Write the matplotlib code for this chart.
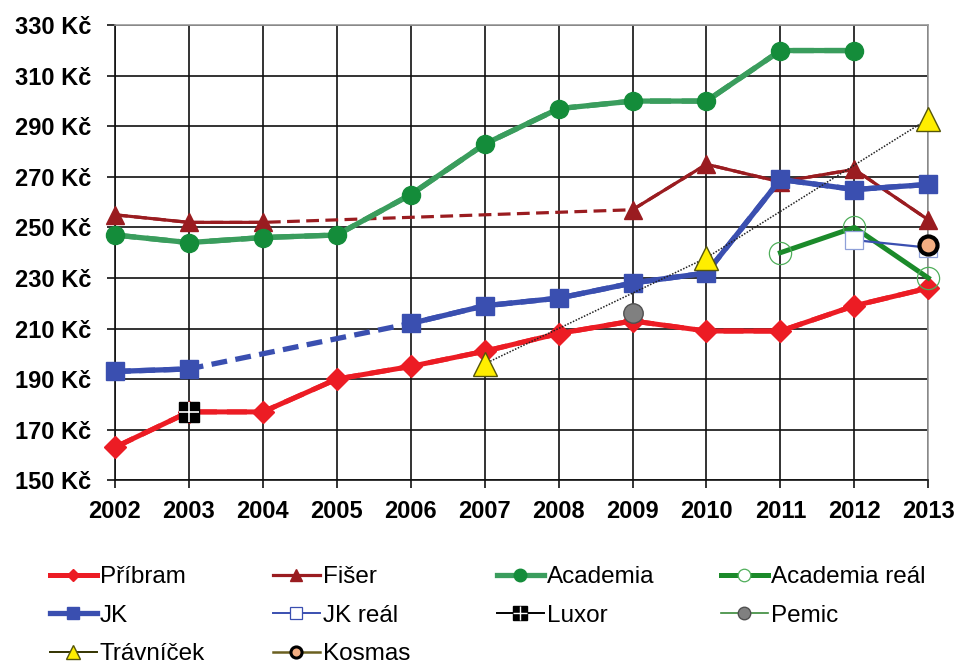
import matplotlib
matplotlib.use('Agg')
import matplotlib.pyplot as plt
from matplotlib.lines import Line2D
import numpy as np

years = list(range(2002, 2014))
nan = np.nan

pribram = [163, 177, 177, 190, 195, 201, 208, 213, 209, 209, 219, 226]
fiser = [255, 252, 252, nan, nan, nan, nan, 257, 275, 268, 273, 253]
academia = [247, 244, 246, 247, 263, 283, 297, 300, 300, 320, 320, nan]
academia_real = [nan] * 9 + [240, 250, 230]
jk = [193, 194, nan, nan, 212, 219, 222, 228, 232, 269, 265, 267]
jk_real = [nan] * 10 + [245, 242]
luxor_x, luxor_y = [2003], [177]
pemic_x, pemic_y = [2009], [216]
travnicek_x, travnicek_y = [2007, 2010, 2013], [196, 238, 293]
kosmas_x, kosmas_y = [2013], [243]

yticks = list(range(150, 331, 20))

plt.rcParams['font.family'] = ['Liberation Sans', 'DejaVu Sans']

fig = plt.figure(figsize=(9.58, 6.65), dpi=100)
ax = fig.add_axes([0.120, 0.278, 0.849, 0.684])


def series(ax, y, color, lw, marker, ms, mfc, mec, dash):
    y = np.array(y, dtype=float)
    ok = ~np.isnan(y)
    xs = np.array(years)[ok]
    # dashed line bridging missing years
    ax.plot(xs, y[ok], color=color, lw=lw, dashes=dash, clip_on=False, zorder=2)
    ax.plot(years, y, color=color, lw=lw, marker=marker, ms=ms, mfc=mfc,
            mec=mec, clip_on=False, zorder=3)


red = '#ec1c24'
darkred = '#9a1c20'
green_l = '#3a9d5d'
green_m = '#148c3a'
green_r = '#1b8a2a'
blue = '#3a4fb0'

series(ax, pribram, red, 3.6, 'D', 11, red, red, (4, 2))
series(ax, fiser, darkred, 2.3, '^', 13, darkred, darkred, (4, 2))
series(ax, academia, green_l, 3.8, 'o', 13, green_m, green_m, (4, 2))
ax.plot(years, academia_real, color=green_r, lw=3.6, marker='o', ms=16,
        mfc='none', mec='#4fae5a', mew=0.9, clip_on=False, zorder=3)
series(ax, jk, blue, 3.8, 's', 12.5, blue, blue, (3, 1.6))
ax.plot(years, jk_real, color=blue, lw=1.6, marker='s', ms=13,
        mfc='white', mec='#8fa0d8', mew=0.9, clip_on=False, zorder=3)
ax.plot(luxor_x, luxor_y, ls='none', marker='s', ms=15, mfc='black',
        mec='black', clip_on=False, zorder=4)
ax.plot(luxor_x, luxor_y, ls='none', marker='+', ms=15, mec='white',
        mew=1.2, clip_on=False, zorder=4)
ax.plot(pemic_x, pemic_y, ls='none', marker='o', ms=14, mfc='#808080',
        mec='#505050', mew=1, clip_on=False, zorder=4)
ax.plot(travnicek_x, travnicek_y, color='#222222', lw=1.1, ls=(0, (1, 1)),
        marker='^', ms=17, mfc='#ffee00', mec='#55550a', mew=1,
        clip_on=False, zorder=5)
ax.plot(kosmas_x, kosmas_y, ls='none', marker='o', ms=13, mfc='#f3ae82',
        mec='black', mew=3, clip_on=False, zorder=6)

ax.set_xlim(2002, 2013)
ax.set_ylim(150, 330)
ax.set_xticks(years)
ax.set_yticks(yticks)
ax.set_yticklabels([f'{v} Kč' for v in yticks])
ax.grid(True, color='#111111', lw=1.2)
ax.set_axisbelow(True)
ax.tick_params(length=6, width=1.2, color='#111111', labelsize=17)
ax.tick_params(axis='y', pad=11)
ax.tick_params(axis='x', pad=8)
for lab in ax.get_xticklabels() + ax.get_yticklabels():
    lab.set_fontweight('bold')
ax.spines['top'].set_color('#9a9a9a')
ax.spines['right'].set_color('#9a9a9a')
ax.spines['left'].set_color('#111111')
ax.spines['bottom'].set_color('#111111')
for s in ax.spines.values():
    s.set_linewidth(1.2)

# legend, four equal-width columns
h_pribram = Line2D([], [], color=red, lw=3.6, marker='D', ms=6, mfc=red, mec=red)
h_fiser = Line2D([], [], color=darkred, lw=2.3, marker='^', ms=9, mfc=darkred, mec=darkred)
h_academia = Line2D([], [], color=green_l, lw=3.8, marker='o', ms=9, mfc=green_m, mec=green_m)
h_acreal = Line2D([], [], color=green_r, lw=3.6, marker='o', ms=9, mfc='white', mec='#4fae5a', mew=0.9)
h_jk = Line2D([], [], color=blue, lw=3.8, marker='s', ms=9, mfc=blue, mec=blue)
h_jkreal = Line2D([], [], color=blue, lw=1.4, marker='s', ms=9, mfc='white', mec='#3a4fb0', mew=0.9)
h_luxor = (Line2D([], [], color='black', lw=1.4, marker='s', ms=10, mfc='black', mec='black'),
           Line2D([], [], ls='none', marker='+', ms=10, mec='white', mew=1))
h_pemic = Line2D([], [], color='#3a8a3a', lw=1.2, marker='o', ms=9, mfc='#808080', mec='#505050')
h_trav = Line2D([], [], color='#333300', lw=1.4, marker='^', ms=10, mfc='#ffee00', mec='#55550a')
h_kosmas = Line2D([], [], color='#6b6020', lw=1.8, marker='o', ms=8, mfc='#f3ae82', mec='black', mew=2.2)

columns = [
    ([h_pribram, h_jk, h_trav], ['Příbram', 'JK', 'Trávníček'], 50),
    ([h_fiser, h_jkreal, h_kosmas], ['Fišer', 'JK reál', 'Kosmas'], 273),
    ([h_academia, h_luxor], ['Academia', 'Luxor'], 497),
    ([h_acreal, h_pemic], ['Academia reál', 'Pemic'], 721),
]
for hs, ls_, x0 in columns:
    fig.legend(hs, ls_, loc='upper left', bbox_to_anchor=(x0 / 958, 1 - 566 / 665),
               frameon=False, handlelength=1.93, handletextpad=0.12,
               labelspacing=0.68, borderpad=0, borderaxespad=0,
               prop={'size': 17.5})

fig.savefig('out.png', dpi=100)
